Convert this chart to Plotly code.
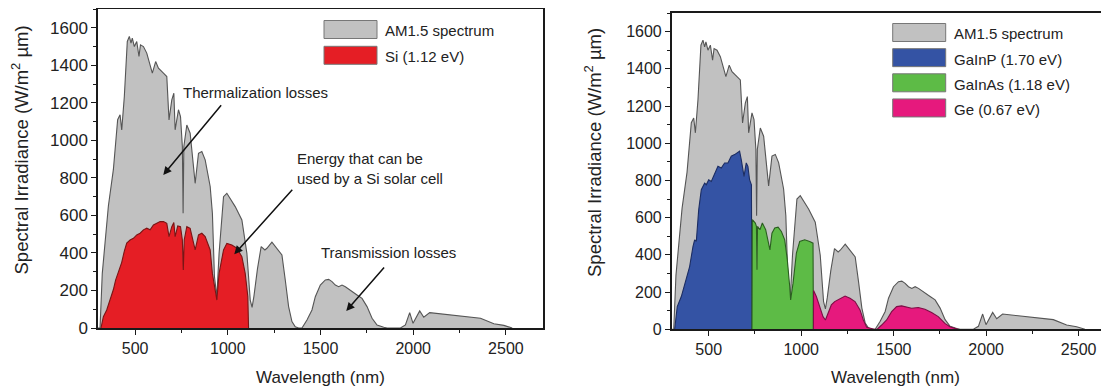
import plotly.graph_objects as go

W, H = 1109, 387          # browser window
OFF = 8                   # default page margin around the plot div
FW, FH = W - OFF, H - OFF  # figure size so that it fits the window exactly

# AM1.5 spectrum (wavelength nm, spectral irradiance W/m2 um)
am15_wl = [300, 311, 323, 334, 356, 383, 406, 419, 428, 442, 458, 469, 478, 485, 496, 509, 521, 529, 545, 563,
           581, 593, 611, 626, 653, 671, 683, 698, 709, 716, 734, 745, 755, 759, 763, 779, 797, 815, 824, 842,
           860, 878, 905, 917, 928, 941, 953, 977, 995, 1040, 1076, 1103, 1121, 1131, 1141, 1160, 1180, 1200, 1211, 1238,
           1265, 1292, 1310, 1328, 1346, 1364, 1382, 1400, 1427, 1454, 1472, 1499, 1526, 1544, 1562, 1580, 1598, 1616, 1634, 1661,
           1697, 1724, 1751, 1778, 1805, 1841, 1859, 1931, 1958, 1981, 1999, 2035, 2057, 2089, 2147, 2237, 2327, 2363, 2435, 2489,
           2534]
am15_irr = [0, 0, 290, 400, 650, 845, 1110, 1136, 1056, 1234, 1527, 1554, 1518, 1545, 1500, 1527, 1447, 1509, 1500, 1465,
            1394, 1358, 1420, 1385, 1358, 1340, 1109, 1216, 1251, 1056, 1163, 1127, 967, 611, 967, 1082, 1038, 860, 771, 931,
            940, 896, 754, 611, 274, 167, 398, 700, 718, 647, 576, 398, 149, 110, 170, 315, 434, 416, 425, 458,
            425, 389, 256, 114, 34, 7, 0, 0, 43, 96, 167, 229, 256, 259, 247, 229, 220, 229, 220, 203,
            176, 158, 114, 52, 16, 4, 0, 0, 16, 82, 25, 91, 57, 82, 75, 64, 57, 52, 23, 14,
            0]

# Si (1.12 eV) usable part
si_wl = [316, 329, 347, 365, 383, 395, 406, 415, 428, 442, 455, 473, 491, 509, 527, 545, 563, 581, 599, 617,
         635, 653, 671, 683, 698, 709, 716, 730, 745, 755, 760, 765, 779, 797, 811, 824, 842, 860, 878, 905,
         917, 932, 941, 953, 977, 995, 1022, 1049, 1076, 1094, 1108, 1112]
si_irr = [0, 60, 96, 150, 205, 255, 288, 312, 350, 410, 453, 469, 478, 496, 505, 523, 532, 523, 549, 558,
          567, 567, 558, 487, 540, 562, 487, 544, 540, 469, 309, 469, 540, 531, 469, 416, 496, 505, 487, 416,
          291, 185, 149, 291, 416, 451, 442, 425, 380, 291, 167, 0]

# GaInP (1.70 eV)
gainp_wl = [316, 330, 352, 379, 397, 415, 424, 433, 446, 460, 478, 487, 500, 514, 532, 550, 568, 586, 604, 622,
            640, 658, 667, 676, 691, 703, 712, 721, 731, 734]
gainp_irr = [0, 122, 176, 266, 337, 445, 481, 472, 643, 750, 786, 777, 804, 795, 840, 876, 867, 894, 894, 930,
             939, 952, 957, 912, 822, 894, 876, 804, 777, 0]

# GaInAs (1.18 eV)
gainas_wl = [734, 736, 752, 758, 761, 764, 777, 790, 808, 821, 831, 842, 857, 875, 893, 911, 925, 938, 943, 956,
             974, 992, 1019, 1046, 1064, 1066]
gainas_irr = [0, 589, 571, 553, 320, 553, 535, 571, 535, 463, 427, 517, 544, 549, 526, 481, 373, 230, 158, 248,
              409, 472, 481, 472, 463, 0]

# Ge (0.67 eV)
ge_wl = [1066, 1067, 1082, 1100, 1118, 1131, 1145, 1163, 1181, 1199, 1217, 1237, 1264, 1291, 1318, 1336, 1354, 1381, 1395, 1405,
         1412, 1435, 1462, 1489, 1516, 1543, 1570, 1597, 1633, 1669, 1705, 1741, 1777, 1804, 1831, 1849]
ge_irr = [0, 208, 176, 122, 68, 50, 86, 131, 149, 158, 167, 179, 167, 149, 104, 50, 11, 2, 0, 0,
          2, 23, 50, 95, 122, 126, 118, 113, 117, 108, 90, 68, 32, 14, 5, 0]

x_ticks = [500, 1000, 1500, 2000, 2500]
y_ticks = [0, 200, 400, 600, 800, 1000, 1200, 1400, 1600]

GRAY = "#c1c1c1"
GRAY_LINE = "#555555"
RED = "#e51e25"
BLUE = "#3453a4"
GREEN = "#5dbb46"
PINK = "#e6197d"
FONT = "Liberation Sans, Arial, sans-serif"
TXT = "#222222"


def px(x):
    """window pixel x -> paper fraction"""
    return (x - OFF) / FW


def py(y):
    """window pixel y -> paper fraction"""
    return 1 - (y - OFF) / FH


fig = go.Figure()


def area(x, y, fill, line, xa, ya, name):
    fig.add_trace(go.Scatter(x=x, y=y, mode="lines", fill="tozeroy", fillcolor=fill,
                             line=dict(color=line, width=1.1), name=name, showlegend=False,
                             xaxis=xa, yaxis=ya, hoverinfo="skip"))


area(am15_wl, am15_irr, GRAY, GRAY_LINE, "x", "y", "AM1.5 spectrum")
area(si_wl, si_irr, RED, "#7a1515", "x", "y", "Si (1.12 eV)")
area(am15_wl, am15_irr, GRAY, GRAY_LINE, "x2", "y2", "AM1.5 spectrum")
area(gainp_wl, gainp_irr, BLUE, "#1c2d63", "x2", "y2", "GaInP (1.70 eV)")
area(gainas_wl, gainas_irr, GREEN, "#2b5e20", "x2", "y2", "GaInAs (1.18 eV)")
area(ge_wl, ge_irr, PINK, "#7c0f45", "x2", "y2", "Ge (0.67 eV)")

axis_common = dict(showgrid=False, zeroline=False, showline=True, linecolor="#1a1a1a", linewidth=1.5,
                   ticks="outside", ticklen=5, tickwidth=1.2, tickcolor="#1a1a1a", automargin=False,
                   tickfont=dict(family=FONT, size=16, color=TXT))
minor_x = dict(dtick=250, tick0=0, ticklen=3, ticks="outside", tickcolor="#1a1a1a")
minor_y = dict(dtick=100, tick0=0, ticklen=3, ticks="outside", tickcolor="#1a1a1a")

fig.update_layout(
    width=FW, height=FH, margin=dict(l=0, r=0, t=0, b=0),
    paper_bgcolor="white", plot_bgcolor="white", showlegend=False,
    xaxis=dict(axis_common, domain=[px(98), px(543)], range=[300, 2700], anchor="y", mirror=True,
               tickvals=x_ticks, minor=minor_x),
    yaxis=dict(axis_common, domain=[py(328), py(9)], range=[0, 1700], anchor="x", mirror=True,
               tickvals=y_ticks, tickfont=dict(family=FONT, size=17, color=TXT), minor=minor_y),
    xaxis2=dict(axis_common, domain=[px(671.7), 1], range=[300, 2664], anchor="y2", mirror=True,
                tickvals=x_ticks, minor=minor_x),
    yaxis2=dict(axis_common, domain=[py(329.3), py(13)], range=[0, 1700], anchor="x2", mirror=False,
                tickvals=y_ticks, minor=minor_y),
)

ann = []
# axis titles
for cx in (320.5, 895):
    ann.append(dict(text="Wavelength (nm)", x=px(cx), y=py(377), xref="paper", yref="paper",
                    xanchor="center", yanchor="middle", showarrow=False,
                    font=dict(family=FONT, size=17, color=TXT)))
for cx, cy in ((21, 150.5), (593, 153)):
    ann.append(dict(text="Spectral Irradiance (W/m<sup>2</sup> µm)", x=px(cx), y=py(cy), xref="paper", yref="paper",
                    xanchor="center", yanchor="middle", showarrow=False, textangle=-90,
                    font=dict(family=FONT, size=18.5, color=TXT)))

# legends (drawn manually)
shapes = []
legend_left = [("AM1.5 spectrum", GRAY), ("Si (1.12 eV)", RED)]
legend_right = [("AM1.5 spectrum", GRAY), ("GaInP (1.70 eV)", BLUE), ("GaInAs (1.18 eV)", GREEN), ("Ge (0.67 eV)", PINK)]
for items, x0, x1, y0, step in ((legend_left, 324, 377, 29.5, 25.8), (legend_right, 892.7, 945.7, 32.5, 25.15)):
    for i, (label, col) in enumerate(items):
        cy = y0 + i * step
        shapes.append(dict(type="rect", xref="paper", yref="paper", x0=px(x0), x1=px(x1),
                           y0=py(cy + 9), y1=py(cy - 9), fillcolor=col, line=dict(color="#777777", width=1)))
        ann.append(dict(text=label, x=px(x1 + 6), y=py(cy + 1.5), xref="paper", yref="paper",
                        xanchor="left", yanchor="middle", showarrow=False,
                        font=dict(family=FONT, size=15, color=TXT)))

# text labels in the left chart
ann.append(dict(text="Thermalization losses", x=1148, y=1253, xref="x", yref="y", showarrow=False,
                xanchor="center", yanchor="middle", font=dict(family=FONT, size=15, color=TXT)))
ann.append(dict(text="Energy that can be<br>used by a Si solar cell", x=1364, y=848, xref="x", yref="y",
                showarrow=False, align="left", xanchor="left", yanchor="middle",
                font=dict(family=FONT, size=15, color=TXT)))
ann.append(dict(text="Transmission losses", x=1867, y=401, xref="x", yref="y", showarrow=False,
                xanchor="center", yanchor="middle", font=dict(family=FONT, size=15, color=TXT)))
# arrows
for hx, hy, tx, ty in ((652, 816, 971, 1195), (1035, 393, 1355, 745), (1639, 91, 1850, 331)):
    ann.append(dict(text="", x=hx, y=hy, ax=tx, ay=ty, xref="x", yref="y", axref="x", ayref="y",
                    showarrow=True, arrowhead=2, arrowsize=1.1, arrowwidth=1.5, arrowcolor="#111111"))

fig.update_layout(annotations=ann, shapes=shapes)
fig.write_html("out.html")
